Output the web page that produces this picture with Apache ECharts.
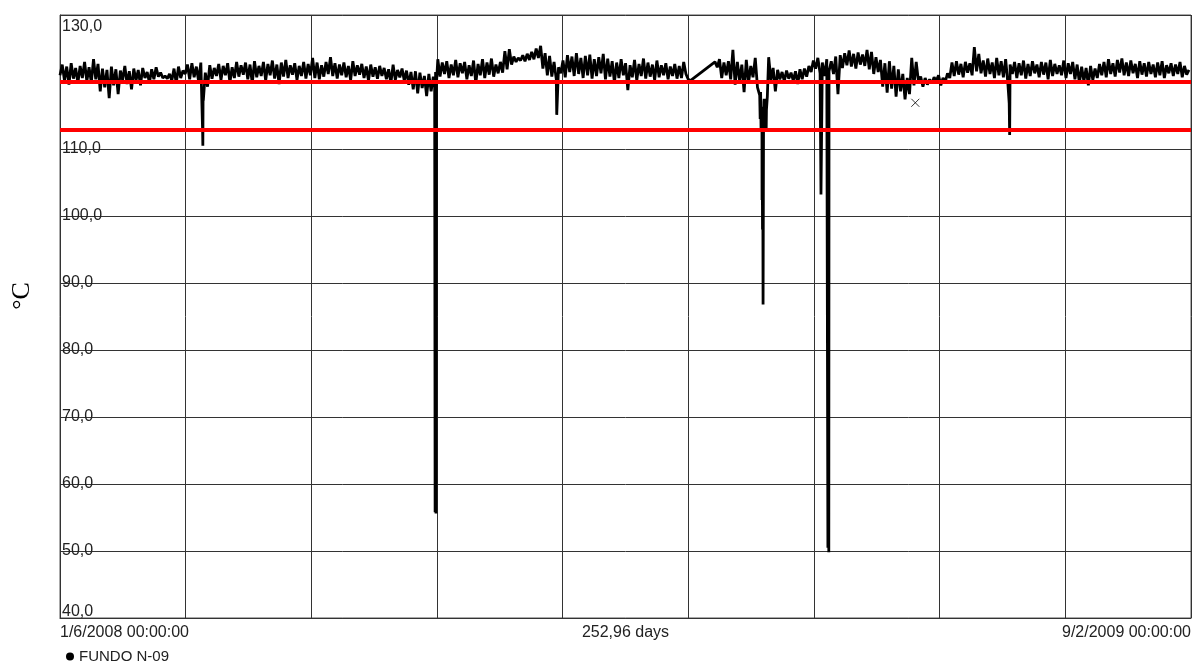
<!DOCTYPE html>
<html><head><meta charset="utf-8">
<script src="https://cdn.jsdelivr.net/npm/echarts@6/dist/echarts.min.js"></script>
<style>html,body{margin:0;padding:0;background:#fff}#c{width:1194px;height:662px}</style>
</head><body><div id="c"></div>
<script>
const seriesName = 'FUNDO N-09';
const yUnit = '°C';
const xStartLabel = '1/6/2008 00:00:00';
const xEndLabel = '9/2/2009 00:00:00';
const xSpanLabel = '252,96 days';
const spanDays = 252.96;
const sampleStepDays = 0.5;
const limitLines = [120, 112.8];
const yTicks = [40, 50, 60, 70, 80, 90, 100, 110, 120, 130];
const hiddenYLabel = 120; // covered by the data band in the original

// temperature readings every 12 h, day 0 = 1/6/2008
const p1 = [121.0,122.6,120.2,122.3,119.6,122.8,120.5,122.1,119.8,122.4,
120.6,123.0,120.1,122.2,119.9,123.4,120.4,122.7,118.6,122.0,
119.2,121.8,117.6,122.3,119.5,121.9,118.2,121.7,120.3,122.4,
119.7,121.6,118.9,122.0,120.2,121.8,119.5,122.1,120.6,121.5,
119.9,121.9,120.4,122.2,120.8,121.4,120.6,120.9,120.5,121.2,
120.2,122.0,119.8,122.3,120.6,121.7];
const p2 = [121.2,122.6,120.4,122.8,120.7,122.3,120.1,122.9,118.0,121.4,
119.3,122.5,120.5,122.1,120.9,122.7,120.3,122.4,121.0,122.8,
119.9,122.2,120.6,123.0,120.8,122.5,121.1,122.9,120.4,122.6,
119.8,123.1,120.7,122.4,120.9,123.0,120.2,122.7,121.0,123.2,
120.5,122.6,119.7,122.9,120.8,123.3,120.6,122.5,121.1,122.8,
120.3,122.4,120.9,123.0,120.5,122.7];
const p3 = [121.0,123.6,120.6,122.9,120.4,122.5,120.8,123.0,121.2,123.7,
120.9,122.8,120.5,122.6,121.0,122.9,120.7,122.4,120.3,123.1,
120.9,122.5,121.1,122.7,120.6,122.3,120.2,122.6,120.8,122.2,
120.5,122.4,120.9,122.1,120.4,121.9,119.8,122.6,120.3,121.8,
120.7,122.0,120.2,121.7,119.6,121.5,118.9,121.6,118.3,121.4,
119.1,120.9,117.9,121.2,118.6,120.8];
const p4 = [121.5,123.4,120.8,122.9,121.2,123.1,120.6,122.6,121.0,123.3,
120.7,122.8,121.3,123.0,120.4,122.5,120.9,123.2,119.8,122.7,
121.0,123.4,120.6,122.9,121.1,123.5,120.8,122.6,121.3,123.0,
121.4,124.6,121.9,124.9,122.6,123.8,123.0,123.6,123.2,124.0,
123.1,124.2,123.3,124.5,123.4,125.0,123.6,125.4,122.0,124.3,
121.0,123.9,120.8,123.0,120.4,122.2];
const p5 = [121.3,123.2,120.7,124.0,121.5,123.8,120.9,124.3,121.2,123.6,
120.6,123.9,121.0,124.1,120.5,123.4,120.9,123.7,121.3,124.2,
120.4,123.5,120.8,123.1,119.9,122.9,120.6,123.4,121.0,122.8,
118.8,122.5,120.7,123.3,120.2,122.7,120.9,123.5,120.5,122.9,
120.8,122.6,120.3,123.2,120.7,122.5,121.0,122.8,120.4,122.3,
120.9,122.7,120.5,122.4,120.6,123.0];
const p6 = [121.2,120.4,120.2,null,null,null,null,null,null,null,
null,null,null,123.0,122.2,123.4,120.6,122.9,121.0,123.1,
120.4,124.8,119.6,123.0,120.2,122.6,118.5,123.3,119.9,122.4,
120.7,123.6,119.2,118.0,116.3,117.5,115.8,123.7,120.3,122.1,
118.6,121.8,120.4,121.5,120.1,121.7,120.5,121.4,120.2,121.6,
119.7,121.9,120.4,122.0,120.8,122.4];
const p7 = [121.5,123.2,122.0,123.6,121.3,122.9,120.9,123.4,121.6,123.1,
121.2,123.8,118.2,124.0,122.1,124.3,122.5,124.7,122.3,124.2,
122.0,124.4,122.6,124.1,122.4,124.8,121.9,124.5,121.2,123.7,
121.5,123.3,119.3,122.8,118.4,123.1,119.0,122.4,117.8,121.9,
118.6,121.2,117.4,120.6,118.2,123.6,119.5,123.0,120.1,120.8,
119.3,120.6,119.6,120.4,119.8,120.7];
const p8 = [120.2,121.0,119.5,120.6,120.0,121.3,120.6,122.9,120.9,123.1,
121.1,122.7,120.7,123.0,121.4,122.8,121.0,125.2,121.6,124.2,
121.3,123.2,120.8,123.5,121.2,122.9,120.6,123.6,121.0,123.1,
120.7,123.4,119.8,122.6,121.2,123.0,120.6,122.8,121.0,123.2,
120.5,122.7,120.9,123.1,121.3,122.6,120.7,123.0,121.1,122.9,
120.4,123.3,120.9,122.7,121.2,122.5];
const p9 = [121.0,123.2,120.6,122.8,121.2,123.0,120.4,122.6,119.8,122.3,
120.1,122.1,119.5,122.4,120.3,122.0,120.6,122.7,121.0,123.0,
120.7,123.4,121.2,122.8,120.8,123.3,121.4,123.5,121.0,122.9,
120.9,123.2,121.3,122.7,120.6,123.1,121.1,122.8,120.8,123.0,
121.2,122.6,120.7,122.9,121.0,123.1,120.6,122.5,121.3,122.8,
120.9,122.6,121.2,123.0,120.7,122.4,121.1,121.8];

// short drops between the 12 h readings (day, °C)
const dipDays  = [31.9, 31.95, 32.05,
  83.8, 83.9, 84.0, 84.1, 84.2,
  111.1,
  156.6, 156.7, 156.8, 156.9, 157.02, 157.06, 157.12, 157.17, 157.25, 157.35, 157.45, 157.55, 157.65, 157.75, 157.85, 157.95, 158.05, 158.2,
  170.2, 171.75, 171.85, 171.95,
  212.3, 212.4, 212.45];
const dipTemps = [112.6, 110.5, 117.2,
  119.2, 55.8, 117.5, 55.6, 119.8,
  115.1,
  114.5, 118.5, 112.8, 116.0, 102.4, 113.5, 98.0, 113.0, 86.8, 112.6, 117.0, 113.2, 116.4, 112.7, 117.5, 113.0, 116.0, 117.8,
  103.2, 50.5, 121.0, 49.8,
  116.8, 112.1, 117.0];

const crossDays = [191.3];
const crossTemps = [116.9];

const temps = [].concat(p1, p2, p3, p4, p5, p6, p7, p8, p9);
const pts = [];
temps.forEach((v, i) => { if (v !== null) pts.push([i * sampleStepDays, v]); });
dipDays.forEach((d, i) => pts.push([d, dipTemps[i]]));
pts.sort((a, b) => a[0] - b[0]);

const FONT = '"Liberation Sans", Arial, sans-serif';
const chart = echarts.init(document.getElementById('c'), null, {renderer: 'canvas'});
chart.setOption({
  animation: false,
  backgroundColor: '#fff',
  grid: {left: 60, right: 2, top: 15, bottom: 44, show: true, borderColor: '#555', borderWidth: 1},
  legend: {
    data: [seriesName], left: 66, top: 649, padding: 0, icon: 'circle',
    itemWidth: 8, itemHeight: 8,
    textStyle: {fontFamily: FONT, fontSize: 15, color: '#222'}
  },
  xAxis: {
    type: 'value', min: 0, max: spanDays, interval: spanDays / 9,
    name: xSpanLabel, nameLocation: 'middle', nameGap: 7, nameMoveOverlap: false,
    nameTextStyle: {fontFamily: FONT, fontSize: 16, color: '#222', verticalAlign: 'top'},
    axisLine: {show: true, lineStyle: {color: '#333'}},
    axisTick: {show: false},
    splitLine: {show: true, lineStyle: {color: '#333', width: 1}},
    axisLabel: {
      margin: 7, fontFamily: FONT, fontSize: 16, color: '#222',
      showMinLabel: true, showMaxLabel: true, alignMinLabel: 'left', alignMaxLabel: 'right',
      formatter: v => v === 0 ? xStartLabel : (Math.abs(v - spanDays) < 1e-6 ? xEndLabel : '')
    }
  },
  yAxis: {
    type: 'value', min: yTicks[0], max: yTicks[yTicks.length - 1], interval: 10,
    axisLine: {show: true, lineStyle: {color: '#333'}},
    axisTick: {show: false},
    splitLine: {show: true, lineStyle: {color: '#333', width: 1}},
    axisLabel: {
      inside: true, margin: 2, fontFamily: FONT, fontSize: 16, color: '#222',
      formatter: v => {
        if (v === hiddenYLabel) return '';
        const s = v.toFixed(1).replace('.', ',');
        if (v === yTicks[yTicks.length - 1]) return '{t|' + s + '}';
        if (v === yTicks[0]) return '{b|' + s + '}';
        return '{m|' + s + '}';
      },
      rich: {
        t: {fontFamily: FONT, fontSize: 16, color: '#222', padding: [24, 0, 0, 0]},
        b: {fontFamily: FONT, fontSize: 16, color: '#222', padding: [0, 0, 12, 0]},
        m: {fontFamily: FONT, fontSize: 16, color: '#222'}
      }
    }
  },
  graphic: [{
    type: 'text', x: 22, y: 296, rotation: Math.PI / 2,
    style: {text: yUnit, font: '26px "Liberation Serif", serif', fill: '#000', align: 'center', verticalAlign: 'middle'}
  }],
  series: [{
    name: seriesName, type: 'line', data: pts, showSymbol: false, symbol: 'none',
    lineStyle: {color: '#000', width: 2.8}, itemStyle: {color: '#000'}, z: 2,
    markLine: {
      silent: true, symbol: ['none', 'none'], label: {show: false},
      lineStyle: {color: '#ff0000', width: 4, type: 'solid'},
      data: limitLines.map(v => ({yAxis: v}))
    }
  }, {
    type: 'scatter', silent: true, z: 3,
    data: crossDays.map((d, i) => [d, crossTemps[i]]),
    symbol: 'path://M0,0L10,10M10,0L0,10', symbolSize: 8,
    itemStyle: {color: 'none', borderColor: '#000', borderWidth: 1}
  }]
});
</script></body></html>
